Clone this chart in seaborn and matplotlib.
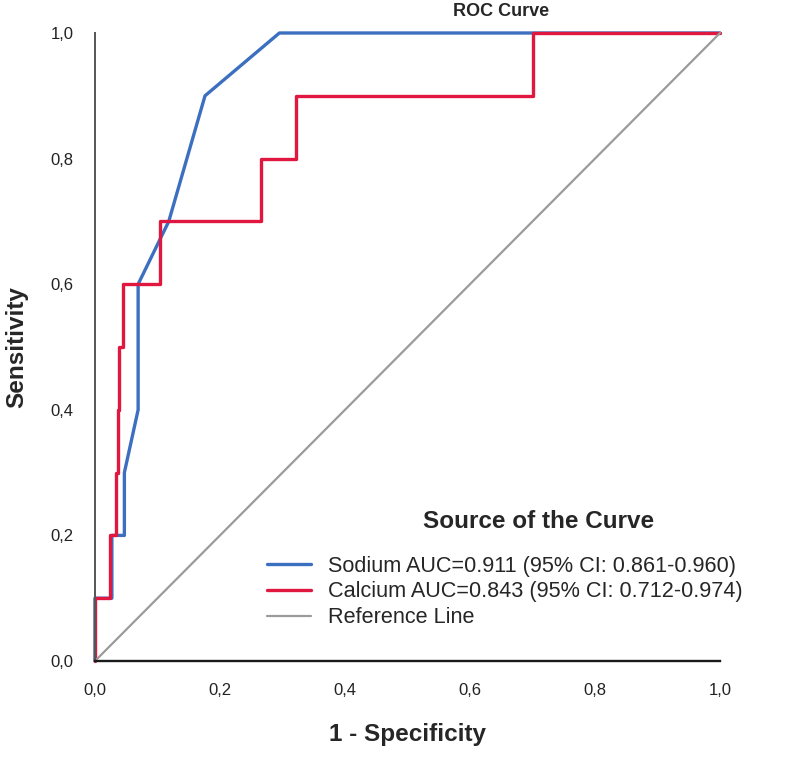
import numpy as np
import pandas as pd
import matplotlib
matplotlib.use('Agg')
import matplotlib.pyplot as plt
import seaborn as sns

# ── Data ──────────────────────────────────────────────────────────────────
sodium_fpr = [0.0, 0.0, 0.027, 0.027, 0.047, 0.047, 0.069, 0.069, 0.118, 0.176, 0.295, 1.0]
sodium_tpr = [0.0, 0.1, 0.1,   0.2,   0.2,   0.3,   0.4,   0.6,   0.7,   0.9,   1.0,   1.0]

calcium_fpr = [0.0, 0.0, 0.024, 0.024, 0.033, 0.033, 0.036, 0.036, 0.039, 0.039,
               0.045, 0.045, 0.104, 0.104, 0.266, 0.266, 0.322, 0.322, 0.70, 0.70, 1.0]
calcium_tpr = [0.0, 0.1, 0.1,   0.2,   0.2,   0.3,   0.3,   0.4,   0.4,   0.5,
               0.5,   0.6,   0.6,   0.7,   0.7,   0.8,   0.8,   0.9,   0.9,  1.0,  1.0]

ref_x = [0.0, 1.0]
ref_y = [0.0, 1.0]

labels = ['Sodium AUC=0.911 (95% CI: 0.861-0.960)',
          'Calcium AUC=0.843 (95% CI: 0.712-0.974)',
          'Reference Line']
colors = ['#3c6fc0', '#e0173f', '#9b9b9b']
ticks = [0.0, 0.2, 0.4, 0.6, 0.8, 1.0]

# ── Plot ──────────────────────────────────────────────────────────────────
sns.set_style('white')
plt.rcParams['font.family'] = ['Liberation Sans', 'DejaVu Sans']

W, H = 800, 758
fig = plt.figure(figsize=(W / 100, H / 100), dpi=100)
# square plot area: x 95..720 px, y 33..661 px
ax = fig.add_axes([95 / W, 1 - 661 / H, 625 / W, 628 / H])

sns.lineplot(x=sodium_fpr, y=sodium_tpr, sort=False, estimator=None, ax=ax,
             color=colors[0], linewidth=2.4, label=labels[0], clip_on=False)
sns.lineplot(x=calcium_fpr, y=calcium_tpr, sort=False, estimator=None, ax=ax,
             color=colors[1], linewidth=2.4, label=labels[1], clip_on=False)
sns.lineplot(x=ref_x, y=ref_y, sort=False, estimator=None, ax=ax,
             color=colors[2], linewidth=1.6, label=labels[2], clip_on=False)

ax.set_xlim(0, 1)
ax.set_ylim(0, 1)
ax.set_xticks(ticks)
ax.set_yticks(ticks)
ax.set_xticklabels([f'{t:.1f}'.replace('.', ',') for t in ticks])
ax.set_yticklabels([f'{t:.1f}'.replace('.', ',') for t in ticks])
ax.tick_params(axis='both', direction='out', length=8, width=1.2, color='#a8a8a8',
               labelsize=12, labelcolor='#222222', pad=7.5)

sns.despine(ax=ax)
ax.spines['left'].set_color('#555555')
ax.spines['left'].set_linewidth(1.4)
ax.spines['bottom'].set_color('#1a1a1a')
ax.spines['bottom'].set_linewidth(1.7)

ax.set_xlabel('1 - Specificity', fontsize=17.5, fontweight='bold', labelpad=18)
ax.set_ylabel('Sensitivity', fontsize=17.5, fontweight='bold', labelpad=16)

fig.text(501 / W, 1 - 12 / H, 'ROC Curve', ha='center', va='center',
         fontsize=13, fontweight='bold')

# legend title drawn separately so the gap above the entries matches
fig.text(539 / W, 1 - 521 / H, 'Source of the Curve', ha='center', va='center',
         fontsize=17.5, fontweight='bold')
leg = ax.legend(loc='center left', bbox_to_anchor=(267 / W, 1 - 592 / H),
                bbox_transform=fig.transFigure, frameon=False, fontsize=15.6,
                borderpad=0, borderaxespad=0, handlelength=2.05,
                handletextpad=0.75, labelspacing=0.22)

fig.savefig('out.png', dpi=100)
